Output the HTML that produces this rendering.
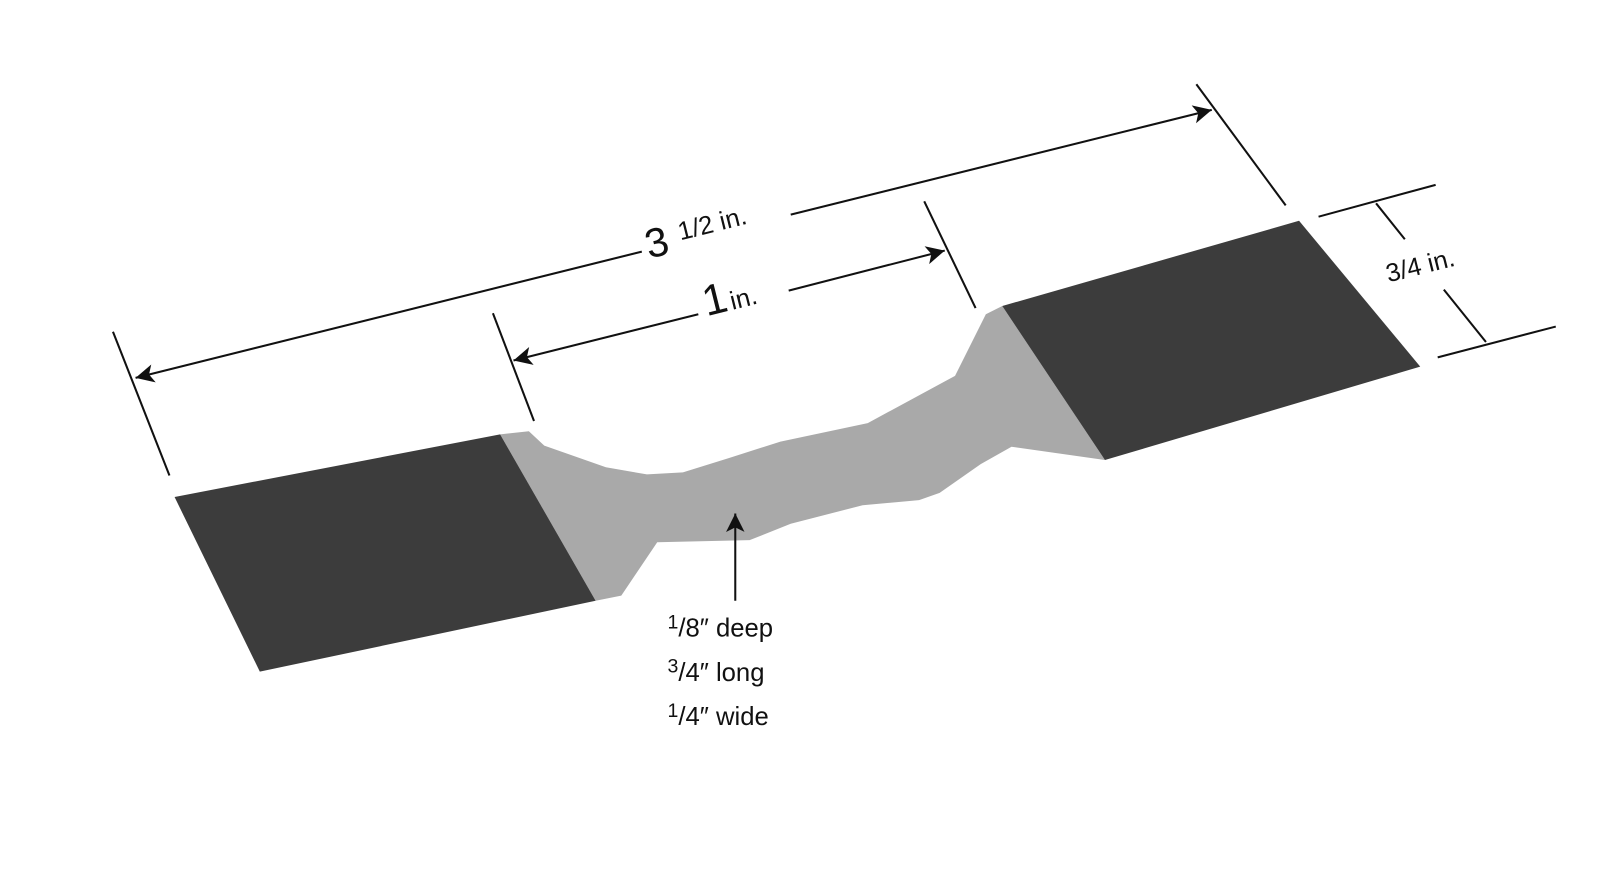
<!DOCTYPE html>
<html><head><meta charset="utf-8"><style>
html,body{margin:0;padding:0;background:#fff;}
svg{display:block;}
text{font-family:"Liberation Sans",sans-serif;fill:#111;}
</style></head><body>
<svg width="1602" height="870" viewBox="0 0 1560 847.2" xmlns="http://www.w3.org/2000/svg">
<defs>
<marker id="ah2" viewBox="0 0 10 10" refX="10" refY="5" markerWidth="32" markerHeight="18" orient="auto-start-reverse" markerUnits="userSpaceOnUse">
<path d="M0,0 L10,5 L0,10 L2.5,5 z" fill="#111"/></marker>
</defs>
<path d="M487,423 L515,420 L530,434 L590,455 L630,462 L665,460 L710,446 L760,430 L845,412 L930,366 L960,306 L976,298 L1076,448 L985,435 L955,452 L915,480 L895,487 L840,492 L770,510 L730,526 L640,528 L605,580 L580,585 Z" fill="#a9a9a9"/>
<polygon points="170,484 487,423 580,585 253,654" fill="#3c3c3c"/>
<polygon points="976,298 1265,215 1383,357 1076,448" fill="#3c3c3c"/>
<g stroke="#111" stroke-width="2" fill="none">
<line x1="110" y1="323" x2="165" y2="463"/>
<line x1="1165" y1="82" x2="1252" y2="200"/>
<line x1="480" y1="305" x2="520" y2="410"/>
<line x1="900" y1="196" x2="950" y2="300"/>
<line x1="132" y1="368" x2="625" y2="245" marker-start="url(#ah2)"/>
<line x1="770" y1="209" x2="1180" y2="107" marker-end="url(#ah2)"/>
<line x1="500" y1="351" x2="680" y2="306" marker-start="url(#ah2)"/>
<line x1="768" y1="283" x2="920" y2="244" marker-end="url(#ah2)"/>
<line x1="1284" y1="211" x2="1398" y2="180"/>
<line x1="1400" y1="348" x2="1515" y2="318"/>
<line x1="1340" y1="198" x2="1368" y2="233"/>
<line x1="1406" y1="282" x2="1447" y2="333"/>
<line x1="716" y1="585" x2="716" y2="500" marker-end="url(#ah2)"/>
</g>
<g transform="translate(632,252) rotate(-14)">
<text x="0" y="0" font-size="40">3</text>
<text x="34" y="-10" font-size="25">1/2 in.</text>
</g>
<g transform="translate(688,308) rotate(-14)">
<text x="0" y="0" font-size="42">1</text>
<text x="26" y="0" font-size="25">in.</text>
</g>
<g transform="translate(1352,275) rotate(-14)">
<text x="0" y="0" font-size="25">3/4 in.</text>
</g>
<text x="650" y="620" font-size="25"><tspan font-size="19" dy="-8">1</tspan><tspan dy="8">/8″ deep</tspan></text>
<text x="650" y="663" font-size="25"><tspan font-size="19" dy="-8">3</tspan><tspan dy="8">/4″ long</tspan></text>
<text x="650" y="706" font-size="25"><tspan font-size="19" dy="-8">1</tspan><tspan dy="8">/4″ wide</tspan></text>
</svg>
</body></html>
